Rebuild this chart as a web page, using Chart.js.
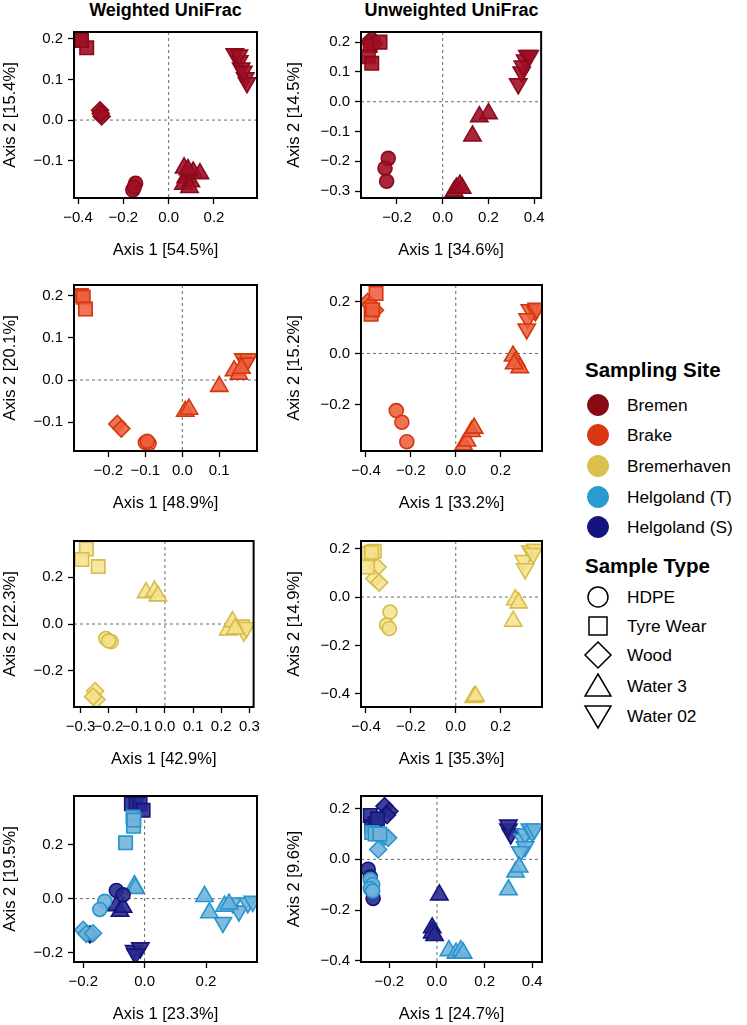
<!DOCTYPE html>
<html>
<head>
<meta charset="utf-8">
<script src="https://cdn.jsdelivr.net/npm/chart.js@4.4.1/dist/chart.umd.min.js"></script>
<style>
  body { margin: 0; background: #fff; font-family: "Liberation Sans", Arial, sans-serif; }
  #wrap { position: relative; width: 747px; height: 1025px; overflow: hidden; }
  #wrap canvas { position: absolute; }
  .coltitle { position: absolute; top: -1px; width: 240px; text-align: center; font-weight: bold; font-size: 18px; line-height: 22px; color: #000; }
  .legtitle { position: absolute; left: 585px; font-weight: bold; font-size: 20.5px; line-height: 24px; color: #000; }
  .legrow { position: absolute; left: 583px; height: 30px; display: flex; align-items: center; font-size: 17.3px; color: #000; }
  .legrow svg { margin-right: 14px; }
</style>
</head>
<body>
<div id="wrap"></div>
<script>
const columnTitles = ['Weighted UniFrac', 'Unweighted UniFrac'];
const sites = ['Bremen', 'Brake', 'Bremerhaven', 'Helgoland (T)', 'Helgoland (S)'];
const types = ['HDPE', 'Tyre Wear', 'Wood', 'Water 3', 'Water 02'];

const axis1Labels = ['Axis 1 [54.5%]', 'Axis 1 [34.6%]', 'Axis 1 [48.9%]', 'Axis 1 [33.2%]',
                     'Axis 1 [42.9%]', 'Axis 1 [35.3%]', 'Axis 1 [23.3%]', 'Axis 1 [24.7%]'];
const axis2Labels = ['Axis 2 [15.4%]', 'Axis 2 [14.5%]', 'Axis 2 [20.1%]', 'Axis 2 [15.2%]',
                     'Axis 2 [22.3%]', 'Axis 2 [14.9%]', 'Axis 2 [19.5%]', 'Axis 2 [9.6%]'];
const xLimits = [[-0.418, 0.39], [-0.357, 0.43], [-0.293, 0.202], [-0.422, 0.384],
                 [-0.323, 0.315], [-0.422, 0.384], [-0.23, 0.366], [-0.319, 0.441]];
const yLimits = [[-0.192, 0.217], [-0.323, 0.234], [-0.168, 0.225], [-0.379, 0.266],
                 [-0.354, 0.354], [-0.455, 0.232], [-0.234, 0.379], [-0.405, 0.25]];
const xTickValues = [[-0.4, -0.2, 0, 0.2], [-0.2, 0, 0.2, 0.4], [-0.2, -0.1, 0, 0.1], [-0.4, -0.2, 0, 0.2],
                     [-0.3, -0.2, -0.1, 0, 0.1, 0.2, 0.3], [-0.4, -0.2, 0, 0.2], [-0.2, 0, 0.2], [-0.2, 0, 0.2, 0.4]];
const yTickValues = [[-0.1, 0, 0.1, 0.2], [-0.3, -0.2, -0.1, 0, 0.1, 0.2], [-0.1, 0, 0.1, 0.2], [-0.2, 0, 0.2],
                     [-0.2, 0, 0.2], [-0.4, -0.2, 0, 0.2], [-0.2, 0, 0.2], [-0.4, -0.2, 0, 0.2]];

// [sample type, axis 1, axis 2]
const wBremen = [
  ['HDPE', -0.146, -0.156], ['HDPE', -0.158, -0.172], ['HDPE', -0.152, -0.165],
  ['Tyre Wear', -0.389, 0.2], ['Tyre Wear', -0.362, 0.178], ['Tyre Wear', -0.385, 0.196],
  ['Wood', -0.303, 0.024], ['Wood', -0.296, 0.009], ['Wood', -0.3, 0.016],
  ['Water 3', 0.068, -0.118], ['Water 3', 0.075, -0.142], ['Water 3', 0.065, -0.158], ['Water 3', 0.098, -0.152],
  ['Water 3', 0.108, -0.128], ['Water 3', 0.138, -0.132], ['Water 3', 0.092, -0.166], ['Water 3', 0.085, -0.122],
  ['Water 02', 0.292, 0.163], ['Water 02', 0.312, 0.146], ['Water 02', 0.32, 0.128], ['Water 02', 0.338, 0.104],
  ['Water 02', 0.346, 0.092], ['Water 02', 0.31, 0.16], ['Water 02', 0.33, 0.12]
];
const uBremen = [
  ['HDPE', -0.238, -0.19], ['HDPE', -0.252, -0.223], ['HDPE', -0.245, -0.267],
  ['Tyre Wear', -0.317, 0.189], ['Tyre Wear', -0.274, 0.2], ['Tyre Wear', -0.325, 0.151], ['Tyre Wear', -0.31, 0.129],
  ['Wood', -0.31, 0.211], ['Wood', -0.3, 0.195], ['Wood', -0.32, 0.2],
  ['Water 3', 0.05, -0.3], ['Water 3', 0.06, -0.29], ['Water 3', 0.075, -0.28], ['Water 3', 0.085, -0.29],
  ['Water 3', 0.13, -0.115], ['Water 3', 0.16, -0.05], ['Water 3', 0.2, -0.04],
  ['Water 02', 0.33, 0.06], ['Water 02', 0.345, 0.1], ['Water 02', 0.36, 0.14], ['Water 02', 0.37, 0.155],
  ['Water 02', 0.35, 0.12], ['Water 02', 0.38, 0.155]
];
const wBrake = [
  ['HDPE', -0.1, -0.148], ['HDPE', -0.09, -0.15], ['HDPE', -0.095, -0.145],
  ['Tyre Wear', -0.273, 0.2], ['Tyre Wear', -0.268, 0.196], ['Tyre Wear', -0.262, 0.168],
  ['Wood', -0.176, -0.104], ['Wood', -0.165, -0.115],
  ['Water 3', 0.008, -0.074], ['Water 3', 0.018, -0.069], ['Water 3', 0.1, -0.015],
  ['Water 3', 0.14, 0.022], ['Water 3', 0.153, 0.014], ['Water 3', 0.16, 0.028],
  ['Water 02', 0.165, 0.05], ['Water 02', 0.178, 0.05], ['Water 02', 0.172, 0.04]
];
const uBrake = [
  ['HDPE', -0.265, -0.222], ['HDPE', -0.24, -0.267], ['HDPE', -0.218, -0.343],
  ['Tyre Wear', -0.355, 0.233], ['Tyre Wear', -0.377, 0.152], ['Tyre Wear', -0.37, 0.17],
  ['Wood', -0.392, 0.2], ['Wood', -0.36, 0.168], ['Wood', -0.38, 0.19],
  ['Water 3', 0.035, -0.355], ['Water 3', 0.05, -0.34], ['Water 3', 0.07, -0.303], ['Water 3', 0.082, -0.29],
  ['Water 3', 0.255, -0.01], ['Water 3', 0.27, -0.03], ['Water 3', 0.285, -0.055], ['Water 3', 0.26, -0.04],
  ['Water 02', 0.33, 0.17], ['Water 02', 0.355, 0.165], ['Water 02', 0.32, 0.135], ['Water 02', 0.316, 0.095],
  ['Water 02', 0.36, 0.175]
];
const wBremerhaven = [
  ['HDPE', -0.21, -0.062], ['HDPE', -0.191, -0.075], ['HDPE', -0.2, -0.072],
  ['Tyre Wear', -0.279, 0.32], ['Tyre Wear', -0.295, 0.275], ['Tyre Wear', -0.237, 0.245],
  ['Wood', -0.248, -0.286], ['Wood', -0.243, -0.322], ['Wood', -0.255, -0.31],
  ['Water 3', -0.067, 0.134], ['Water 3', -0.037, 0.14], ['Water 3', -0.025, 0.12],
  ['Water 3', 0.225, -0.025], ['Water 3', 0.24, 0.01], ['Water 3', 0.25, -0.02],
  ['Water 02', 0.27, -0.005], ['Water 02', 0.28, -0.03], ['Water 02', 0.29, -0.015]
];
const uBremerhaven = [
  ['HDPE', -0.293, -0.062], ['HDPE', -0.308, -0.116], ['HDPE', -0.296, -0.13],
  ['Tyre Wear', -0.363, 0.19], ['Tyre Wear', -0.389, 0.18], ['Tyre Wear', -0.393, 0.124], ['Tyre Wear', -0.375, 0.185],
  ['Wood', -0.348, 0.124], ['Wood', -0.363, 0.077], ['Wood', -0.341, 0.06],
  ['Water 3', 0.265, -0.011], ['Water 3', 0.28, -0.024], ['Water 3', 0.256, -0.1],
  ['Water 3', 0.08, -0.415], ['Water 3', 0.088, -0.41],
  ['Water 02', 0.332, 0.19], ['Water 02', 0.354, 0.198], ['Water 02', 0.302, 0.151], ['Water 02', 0.309, 0.117],
  ['Water 02', 0.345, 0.18]
];
const wHelgolandT = [
  ['HDPE', -0.13, -0.01], ['HDPE', -0.146, -0.04],
  ['Tyre Wear', -0.038, 0.301], ['Tyre Wear', -0.036, 0.267], ['Tyre Wear', -0.062, 0.206], ['Tyre Wear', -0.035, 0.29],
  ['Wood', -0.2, -0.115], ['Wood', -0.19, -0.13], ['Wood', -0.168, -0.128],
  ['Water 3', 0.195, 0.008], ['Water 3', 0.211, -0.052], ['Water 3', 0.26, -0.028], ['Water 3', 0.275, -0.02],
  ['Water 02', 0.255, -0.088], ['Water 02', 0.287, -0.016], ['Water 02', 0.307, -0.046], ['Water 02', 0.336, -0.016],
  ['Water 02', 0.352, -0.01]
];
const wHelgolandS = [
  ['HDPE', -0.092, 0.03], ['HDPE', -0.07, 0.014],
  ['Tyre Wear', -0.043, 0.35], ['Tyre Wear', -0.028, 0.35], ['Tyre Wear', -0.015, 0.35], ['Tyre Wear', -0.005, 0.326],
  ['Wood', -0.178, -0.132],
  ['Water 3', -0.092, -0.026], ['Water 3', -0.08, -0.046], ['Water 3', -0.07, -0.032],
  ['Water 02', -0.034, -0.192], ['Water 02', -0.014, -0.182], ['Water 02', -0.03, -0.205]
];
const wHelgolandTWater = [['Water 3', -0.033, 0.048], ['Water 3', -0.03, 0.038]];
const uHelgolandT = [
  ['HDPE', -0.28, -0.08], ['HDPE', -0.27, -0.1], ['HDPE', -0.28, -0.115], ['HDPE', -0.27, -0.125],
  ['Tyre Wear', -0.274, 0.106], ['Tyre Wear', -0.26, 0.1], ['Tyre Wear', -0.24, 0.1],
  ['Wood', -0.22, 0.09], ['Wood', -0.247, 0.039], ['Wood', -0.205, 0.085],
  ['Water 3', 0.05, -0.36], ['Water 3', 0.08, -0.37], ['Water 3', 0.1, -0.36], ['Water 3', 0.11, -0.37],
  ['Water 3', 0.3, -0.12], ['Water 3', 0.33, -0.05], ['Water 3', 0.345, -0.03],
  ['Water 02', 0.36, 0.08], ['Water 02', 0.37, 0.1], ['Water 02', 0.39, 0.12], ['Water 02', 0.4, 0.11],
  ['Water 02', 0.41, 0.12], ['Water 02', 0.37, 0.05], ['Water 02', 0.35, 0.03]
];
const uHelgolandS = [
  ['HDPE', -0.289, -0.039], ['HDPE', -0.28, -0.07], ['HDPE', -0.268, -0.154], ['HDPE', -0.275, -0.12],
  ['Tyre Wear', -0.28, 0.173], ['Tyre Wear', -0.274, 0.129], ['Tyre Wear', -0.26, 0.14], ['Tyre Wear', -0.25, 0.16],
  ['Wood', -0.22, 0.21], ['Wood', -0.2, 0.19], ['Wood', -0.21, 0.175],
  ['Water 3', 0.01, -0.14], ['Water 3', -0.02, -0.27], ['Water 3', -0.02, -0.29], ['Water 3', -0.01, -0.3],
  ['Water 02', 0.3, 0.12], ['Water 02', 0.31, 0.1], ['Water 02', 0.3, 0.135]
];

// site arrays per panel; Chart.js paints the first dataset on top
const panelSeries = [
  [[0, wBremen]], [[0, uBremen]],
  [[1, wBrake]], [[1, uBrake]],
  [[2, wBremerhaven]], [[2, uBremerhaven]],
  [[3, wHelgolandT], [4, wHelgolandS], [3, wHelgolandTWater]],
  [[3, uHelgolandT], [4, uHelgolandS]]
];

// styling
const FONT = '"Liberation Sans", Arial, sans-serif';
const siteBorder = ['#8A0A1B', '#D3370F', '#D5BD46', '#2695CC', '#14157A'];
const siteFill = ['rgba(160,14,38,0.9)', 'rgba(238,96,62,0.88)', 'rgba(246,226,140,0.85)',
                  'rgba(114,178,220,0.9)', 'rgba(40,42,142,0.9)'];
const legendFill = ['#880A12', '#D93712', '#DAC14B', '#2A9AD2', '#14147E'];
const markers = [
  { pointStyle: 'circle', rotation: 0, radius: 7 },
  { pointStyle: 'rect', rotation: 0, radius: 9.5 },
  { pointStyle: 'rectRot', rotation: 0, radius: 8.5 },
  { pointStyle: 'triangle', rotation: 0, radius: 10 },
  { pointStyle: 'triangle', rotation: 180, radius: 10 }
];
const plotTops = [28, 281, 537, 792];
const colLeft = [0, 284];
const yAxisWidth = [74, 77];
const plotWidth = [183, 181];
const PLOT_H = 170, PAD_TOP = 10, X_AXIS_H = 66, PAD_RIGHT = 8;

const fmt = v => v.toFixed(1).replace('-', '\u2212');

const framePlugin = {
  id: 'frame',
  beforeDatasetsDraw(chart) {
    const { ctx, chartArea: a, scales: { x, y } } = chart;
    const x0 = x.getPixelForValue(0), y0 = y.getPixelForValue(0);
    ctx.save();
    ctx.strokeStyle = '#6a6a6a';
    ctx.lineWidth = 1;
    ctx.setLineDash([3, 3]);
    ctx.beginPath();
    ctx.moveTo(x0, a.top); ctx.lineTo(x0, a.bottom);
    ctx.moveTo(a.left, y0); ctx.lineTo(a.right, y0);
    ctx.stroke();
    ctx.restore();
  },
  afterDraw(chart) {
    const { ctx, chartArea: a } = chart;
    ctx.save();
    ctx.strokeStyle = '#000';
    ctx.lineWidth = 2;
    ctx.strokeRect(a.left, a.top, a.right - a.left, a.bottom - a.top);
    ctx.restore();
  }
};

const wrap = document.getElementById('wrap');

columnTitles.forEach((t, c) => {
  const d = document.createElement('div');
  d.className = 'coltitle';
  d.textContent = t;
  d.style.left = (colLeft[c] + yAxisWidth[c] + plotWidth[c] / 2 - 120) + 'px';
  wrap.appendChild(d);
});

function buildDatasets(series) {
  const out = [];
  series.forEach(([site, pts]) => {
    types.forEach((type, t) => {
      const rows = pts.filter(p => p[0] === type);
      if (!rows.length) return;
      out.push({
        label: sites[site] + ' ' + type,
        data: rows.map(p => ({ x: p[1], y: p[2] })),
        pointStyle: markers[t].pointStyle,
        rotation: markers[t].rotation,
        pointRadius: markers[t].radius,
        backgroundColor: siteFill[site],
        borderColor: siteBorder[site],
        borderWidth: 1.6
      });
    });
  });
  return out;
}

for (let i = 0; i < 8; i++) {
  const col = i % 2, row = Math.floor(i / 2);
  const w = yAxisWidth[col] + plotWidth[col] + PAD_RIGHT;
  const h = PAD_TOP + PLOT_H + X_AXIS_H;
  const canvas = document.createElement('canvas');
  canvas.width = w; canvas.height = h;
  canvas.style.width = w + 'px'; canvas.style.height = h + 'px';
  canvas.style.left = colLeft[col] + 'px';
  canvas.style.top = (plotTops[row] - PAD_TOP) + 'px';
  wrap.appendChild(canvas);

  const tickFont = { family: FONT, size: 15 };
  const titleFont = { family: FONT, size: 16.5 };
  new Chart(canvas.getContext('2d'), {
    type: 'scatter',
    data: { datasets: buildDatasets(panelSeries[i]) },
    options: {
      responsive: false,
      animation: false,
      events: [],
      layout: { padding: { top: PAD_TOP, right: PAD_RIGHT, left: 0, bottom: 0 }, autoPadding: false },
      plugins: { legend: { display: false }, tooltip: { enabled: false } },
      scales: {
        x: {
          type: 'linear',
          min: xLimits[i][0], max: xLimits[i][1],
          afterBuildTicks: s => { s.ticks = xTickValues[i].map(v => ({ value: v })); },
          afterFit: s => { s.height = X_AXIS_H; },
          grid: { drawOnChartArea: false, drawTicks: true, tickLength: 6, tickColor: '#000', tickWidth: 1.3 },
          border: { display: false },
          ticks: { color: '#000', font: tickFont, padding: 5, maxRotation: 0, autoSkip: false, callback: v => fmt(v) },
          title: { display: true, text: axis1Labels[i], color: '#000', font: titleFont, padding: { top: 0, bottom: 4 } }
        },
        y: {
          type: 'linear',
          min: yLimits[i][0], max: yLimits[i][1],
          afterBuildTicks: s => { s.ticks = yTickValues[i].map(v => ({ value: v })); },
          afterFit: s => { s.width = yAxisWidth[col]; },
          grid: { drawOnChartArea: false, drawTicks: true, tickLength: 6, tickColor: '#000', tickWidth: 1.3 },
          border: { display: false },
          ticks: { color: '#000', font: tickFont, padding: 5, autoSkip: false, callback: v => fmt(v) },
          title: { display: true, text: axis2Labels[i], color: '#000', font: titleFont, padding: { top: 1, bottom: 0 } }
        }
      }
    },
    plugins: [framePlugin]
  });
}

// legend
const siteRowY = [405, 435, 466, 497, 527];
const typeRowY = [597, 626, 655, 686, 716];
const typeSvg = [
  '<circle cx="15" cy="15" r="10" fill="none" stroke="#000" stroke-width="1.5"/>',
  '<rect x="6" y="6" width="18" height="18" fill="none" stroke="#000" stroke-width="1.5"/>',
  '<polygon points="15,2 28,15 15,28 2,15" fill="none" stroke="#000" stroke-width="1.5"/>',
  '<polygon points="15,3 28,25 2,25" fill="none" stroke="#000" stroke-width="1.5"/>',
  '<polygon points="2,5 28,5 15,27" fill="none" stroke="#000" stroke-width="1.5"/>'
];

function legendTitle(text, cy) {
  const d = document.createElement('div');
  d.className = 'legtitle';
  d.textContent = text;
  d.style.top = (cy - 12) + 'px';
  wrap.appendChild(d);
}
function legendRow(svg, text, cy) {
  const d = document.createElement('div');
  d.className = 'legrow';
  d.style.top = (cy - 15) + 'px';
  d.innerHTML = '<svg width="30" height="30" viewBox="0 0 30 30">' + svg + '</svg>';
  const s = document.createElement('span');
  s.textContent = text;
  d.appendChild(s);
  wrap.appendChild(d);
}

legendTitle('Sampling Site', 370);
sites.forEach((s, k) => legendRow(
  '<circle cx="15" cy="15" r="10.5" fill="' + legendFill[k] + '" stroke="' + siteBorder[k] + '" stroke-width="1"/>', s, siteRowY[k]));
legendTitle('Sample Type', 566);
types.forEach((t, k) => legendRow(typeSvg[k], t, typeRowY[k]));
</script>
</body>
</html>
